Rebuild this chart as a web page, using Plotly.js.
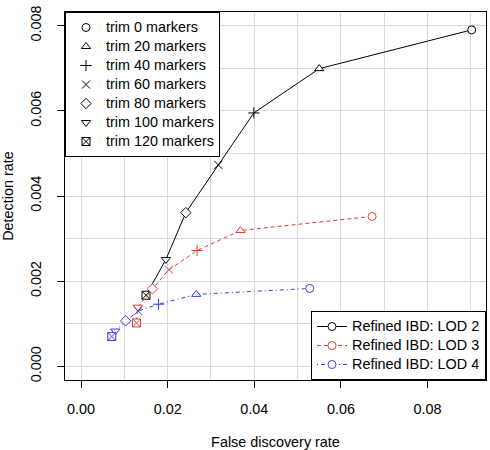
<!DOCTYPE html>
<html><head><meta charset="utf-8">
<script src="https://cdn.plot.ly/plotly-3.0.1.min.js"></script>
<style>body{margin:0;padding:0;background:#fff}</style>
</head><body><div id="chart" style="width:490px;height:450px"></div>
<script>
// ---- data ----
const trimLevels = [0, 20, 40, 60, 80, 100, 120];
const trimLabels = ['trim 0 markers', 'trim 20 markers', 'trim 40 markers', 'trim 60 markers',
                    'trim 80 markers', 'trim 100 markers', 'trim 120 markers'];
const seriesNames = ['Refined IBD: LOD 2', 'Refined IBD: LOD 3', 'Refined IBD: LOD 4'];
const lod2Fdr = [0.0902, 0.0550, 0.0399, 0.0317, 0.0242, 0.0196, 0.0150];
const lod2Det = [0.00790, 0.00699, 0.00595, 0.00473, 0.00361, 0.00251, 0.00167];
const lod3Fdr = [0.0672, 0.0368, 0.0268, 0.0203, 0.0165, 0.0131, 0.0128];
const lod3Det = [0.00352, 0.00319, 0.00272, 0.00227, 0.00182, 0.00139, 0.00102];
const lod4Fdr = [0.0528, 0.0266, 0.0179, 0.0132, 0.0103, 0.0079, 0.0071];
const lod4Det = [0.00183, 0.00169, 0.00146, 0.00130, 0.00107, 0.00083, 0.00070];

// ---- styles ----
const trimSymbols = ['circle', 'triangle-up', 'cross-thin-open', 'x-thin-open', 'diamond', 'triangle-down', 'square-x'];
const trimOpen = [false, false, true, true, false, false, false];
const seriesColors = ['#000000', '#E23B3B', '#3B3BE3'];
const seriesDash = ['solid', '4px,3px', '1px,3px,4px,3px'];
const FONT = 'Liberation Sans, Arial, Helvetica, sans-serif';

function mColors(c) { return trimOpen.map(o => o ? c : 'white'); }
function big(t) { return '<span style="font-size:14.4px">' + t + '</span>'; }

const traces = [];
// trim legend (top-left)
trimLevels.forEach((lv, i) => {
  traces.push({
    x: [null], y: [null], type: 'scatter', mode: 'markers',
    name: big(trimLabels[i]), legend: 'legend', hoverinfo: 'skip',
    marker: { symbol: trimSymbols[i], size: 8, color: trimOpen[i] ? 'black' : 'white',
              line: { color: 'black', width: 1 } }
  });
});
// data series
const fdrs = [lod2Fdr, lod3Fdr, lod4Fdr];
const dets = [lod2Det, lod3Det, lod4Det];
seriesNames.forEach((nm, s) => {
  traces.push({
    x: fdrs[s], y: dets[s], type: 'scatter', mode: 'lines+markers',
    name: big(nm), legend: 'legend2',
    line: { color: seriesColors[s], width: 1, dash: seriesDash[s] },
    marker: { symbol: trimSymbols, size: 8, color: mColors(seriesColors[s]),
              line: { color: seriesColors[s], width: 1 } }
  });
});

const axisCommon = {
  showline: true, mirror: true, linecolor: 'black', linewidth: 1,
  ticks: 'outside', ticklen: 7, tickcolor: 'black', tickwidth: 1,
  showgrid: true, gridcolor: '#d9d9d9', gridwidth: 1, zeroline: false,
  automargin: false, tickfont: { family: FONT, size: 14.4, color: 'black' }
};

const layout = {
  width: 490, height: 450,
  margin: { l: 65, r: 4, t: 12, b: 70 },
  paper_bgcolor: 'white', plot_bgcolor: 'white',
  font: { family: FONT, size: 14.4, color: 'black' },
  showlegend: true,
  xaxis: Object.assign({}, axisCommon, {
    range: [-0.0037, 0.0935], tick0: 0, dtick: 0.02, tickformat: '.2f',
    minor: { dtick: 0.01, showgrid: true, gridcolor: '#d9d9d9', ticks: '' },
    ticklabelstandoff: 9,
    title: { text: 'False discovery rate', font: { family: FONT, size: 14.4 }, standoff: 22 }
  }),
  yaxis: Object.assign({}, axisCommon, {
    range: [-0.00032, 0.00832], tick0: 0, dtick: 0.002, tickformat: '.3f', tickangle: -90,
    minor: { dtick: 0.001, showgrid: true, gridcolor: '#d9d9d9', ticks: '' },
    ticklabelstandoff: 10,
    title: { text: 'Detection rate', font: { family: FONT, size: 14.4 }, standoff: 17 }
  }),
  legend: {
    x: 0, y: 1, xanchor: 'left', yanchor: 'top', xref: 'paper', yref: 'paper',
    bgcolor: 'white', bordercolor: 'black', borderwidth: 1,
    font: { family: FONT, size: 11, color: 'black' }, itemwidth: 30
  },
  legend2: {
    x: 1, y: 0, xanchor: 'right', yanchor: 'bottom', xref: 'paper', yref: 'paper',
    bgcolor: 'white', bordercolor: 'black', borderwidth: 1,
    font: { family: FONT, size: 11, color: 'black' }, itemwidth: 30
  }
};

Plotly.newPlot('chart', traces, layout, { displayModeBar: false, staticPlot: true });
</script>
</body></html>
